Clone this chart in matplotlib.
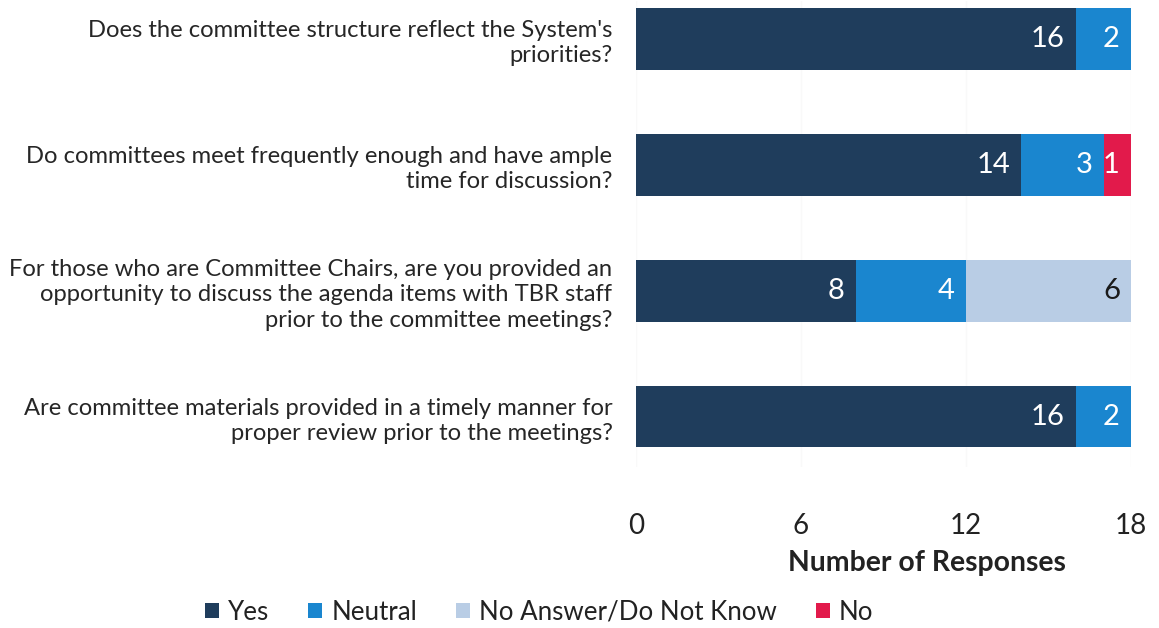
import numpy as np
import matplotlib
matplotlib.use("Agg")
import matplotlib.pyplot as plt
from matplotlib.patches import Patch

plt.rcParams['font.family'] = ['Lato', 'DejaVu Sans']

# Survey questions and stacked response counts
questions = [
    "Does the committee structure reflect the System's\npriorities?",
    "Do committees meet frequently enough and have ample\ntime for discussion?",
    "For those who are Committee Chairs, are you provided an\nopportunity to discuss the agenda items with TBR staff\nprior to the committee meetings?",
    "Are committee materials provided in a timely manner for\nproper review prior to the meetings?",
]
series_names = ["Yes", "Neutral", "No Answer/Do Not Know", "No"]
yes = [16, 14, 8, 16]
neutral = [2, 3, 4, 2]
no_answer = [0, 0, 6, 0]
no = [0, 1, 0, 0]

colors = ["#1f3d5c", "#1a86cf", "#b9cde5", "#e21a4b"]
label_colors = ["white", "white", "#1a1a1a", "white"]
x_ticks = [0, 6, 12, 18]

fig = plt.figure(figsize=(11.59, 6.28), dpi=100)
ax = fig.add_axes([0.5488, 0.2564, 0.4271, 0.7416])

y = np.arange(len(questions))
left = np.zeros(len(questions))
for name, vals, color, tcolor in zip(series_names, [yes, neutral, no_answer, no],
                                     colors, label_colors):
    vals = np.array(vals, dtype=float)
    ax.barh(y, vals, left=left, height=0.49, color=color, label=name, zorder=2)
    for yi, (l, v) in enumerate(zip(left, vals)):
        if v > 0:
            ax.annotate(f"{int(v)}", xy=(l + v, yi), xytext=(-8, 0),
                        textcoords="offset points", ha="right", va="center",
                        fontsize=21, color=tcolor)
    left += vals

ax.set_xlim(0, 18)
ax.set_ylim(3.4, -0.3)
ax.set_xticks(x_ticks)
ax.set_xticklabels([str(t) for t in x_ticks], fontsize=20, color="#222222")
ax.set_yticks(y)
ax.set_yticklabels(questions, fontsize=17.1, color="#262626", linespacing=1.25)
ax.tick_params(axis="both", length=0)
ax.tick_params(axis="x", pad=33)
ax.tick_params(axis="y", pad=17)
for lbl in ax.get_yticklabels():
    lbl.set_horizontalalignment("right")
for s in ax.spines.values():
    s.set_visible(False)
ax.grid(axis="x", color="#f9f9f9", linewidth=1, zorder=0)

fig.text(927 / 1159, 1 - 563 / 628, "Number of Responses", ha="center", va="center",
         fontsize=20.4, fontweight="bold", color="#222222")

handles = [Patch(facecolor=c, label=n) for c, n in zip(colors, series_names)]
fig.legend(handles=handles, loc="center", bbox_to_anchor=(539 / 1159, 1 - 612 / 628),
           ncol=4, frameon=False, fontsize=18.6, handlelength=0.55, handleheight=0.55,
           handletextpad=0.35, columnspacing=1.5, labelcolor="#222222")

fig.savefig("out.png", dpi=100)
